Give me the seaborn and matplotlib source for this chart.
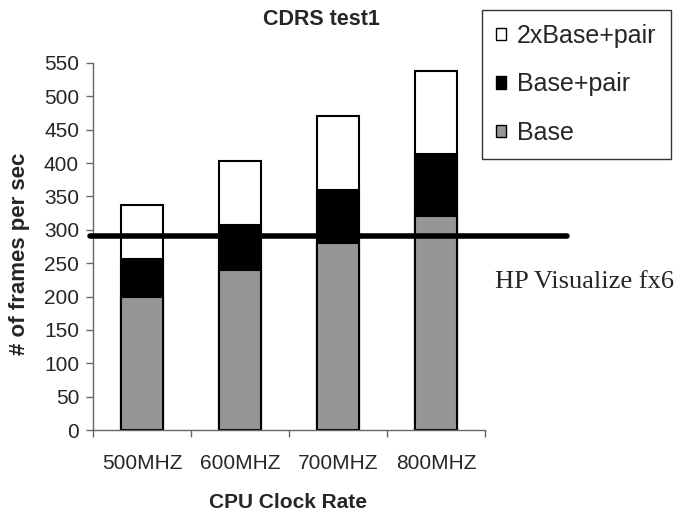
import matplotlib
matplotlib.use("Agg")
import matplotlib.pyplot as plt
import matplotlib.transforms as mtransforms
from matplotlib.patches import Patch
import seaborn as sns
import pandas as pd

# ---- data ----
categories = ["500MHZ", "600MHZ", "700MHZ", "800MHZ"]
base = [200, 240, 280, 320]
base_pair_top = [257, 307, 360, 413]      # cumulative top of "Base+pair"
two_base_pair_top = [337, 403, 471, 538]  # cumulative top of "2xBase+pair"
hp_line_value = 290
hp_label = "HP Visualize fx6"
series_names = ["2xBase+pair", "Base+pair", "Base"]
yticks = list(range(0, 551, 50))

sns.set_theme(style="white")
plt.rcParams['font.family'] = ['Liberation Sans', 'DejaVu Sans']

W, H = 679, 520
fig = plt.figure(figsize=(W/100, H/100), dpi=100)
ax = fig.add_axes([93/W, 1-430/H, 392/W, 367/H])

df = pd.DataFrame({"cat": categories, "base": base,
                   "bp": base_pair_top, "tbp": two_base_pair_top})

gray = "#969696"
bw = 0.42
sns.barplot(data=df, x="cat", y="tbp", color="white", edgecolor="black",
            linewidth=1.5, width=bw, ax=ax, saturation=1)
sns.barplot(data=df, x="cat", y="bp", color="black", edgecolor="black",
            linewidth=1.5, width=bw, ax=ax, saturation=1)
sns.barplot(data=df, x="cat", y="base", color=gray, edgecolor="black",
            linewidth=1.5, width=bw, ax=ax, saturation=1)

ax.set_xlim(-0.5, len(categories) - 0.5)
ax.set_ylim(0, 550)
ax.set_yticks(yticks)
ax.set_yticklabels([str(v) for v in yticks], fontsize=15)
ax.set_xticks(range(len(categories)))
ax.set_xticklabels(categories, fontsize=15)
ax.set_xticks([i - 0.5 for i in range(len(categories) + 1)], minor=True)
ax.tick_params(axis="x", which="major", length=0, pad=17)
ax.tick_params(axis="x", which="minor", length=5, width=1, color="#666666", direction="out", bottom=True)
ax.tick_params(axis="y", which="major", length=5, width=1, color="#666666", direction="out", left=True, pad=5)

for s in ["top", "right"]:
    ax.spines[s].set_visible(False)
for s in ["left", "bottom"]:
    ax.spines[s].set_color("#666666")
    ax.spines[s].set_linewidth(1)

ax.set_xlabel("CPU Clock Rate", fontsize=15, fontweight="bold")
ax.xaxis.set_label_coords((288-93)/392, -(493-430)/367)
ax.set_ylabel("# of frames per sec", fontsize=16, fontweight="bold")
ax.yaxis.set_label_coords((30-93)/392, (430-254)/367)

fig.text(321/W, 1-25/H, "CDRS test1", fontsize=15.5, fontweight="bold",
         ha="center", va="baseline")

trans = mtransforms.blended_transform_factory(ax.transAxes, ax.transData)
ax.plot([-0.008, 1.209], [hp_line_value, hp_line_value], color="black",
        linewidth=4, solid_capstyle="round", transform=trans, clip_on=False, zorder=5)
fig.text(495/W, 1-288/H, hp_label, fontsize=19, va="baseline", ha="left",
         family=["Liberation Serif", "DejaVu Serif"])

handles = [Patch(facecolor="white", edgecolor="black", linewidth=1),
           Patch(facecolor="black", edgecolor="black", linewidth=1),
           Patch(facecolor=gray, edgecolor="black", linewidth=1)]
leg = fig.legend(handles, series_names, loc="upper left",
                 bbox_to_anchor=(482/W, 1-10/H), fontsize=18,
                 frameon=True, fancybox=False, handlelength=0.4,
                 handleheight=0.4, handletextpad=0.45, labelspacing=0.98,
                 borderpad=0.56, borderaxespad=0)
leg.get_frame().set_edgecolor("black")
leg.get_frame().set_linewidth(1)

fig.savefig("out.png", dpi=100)
